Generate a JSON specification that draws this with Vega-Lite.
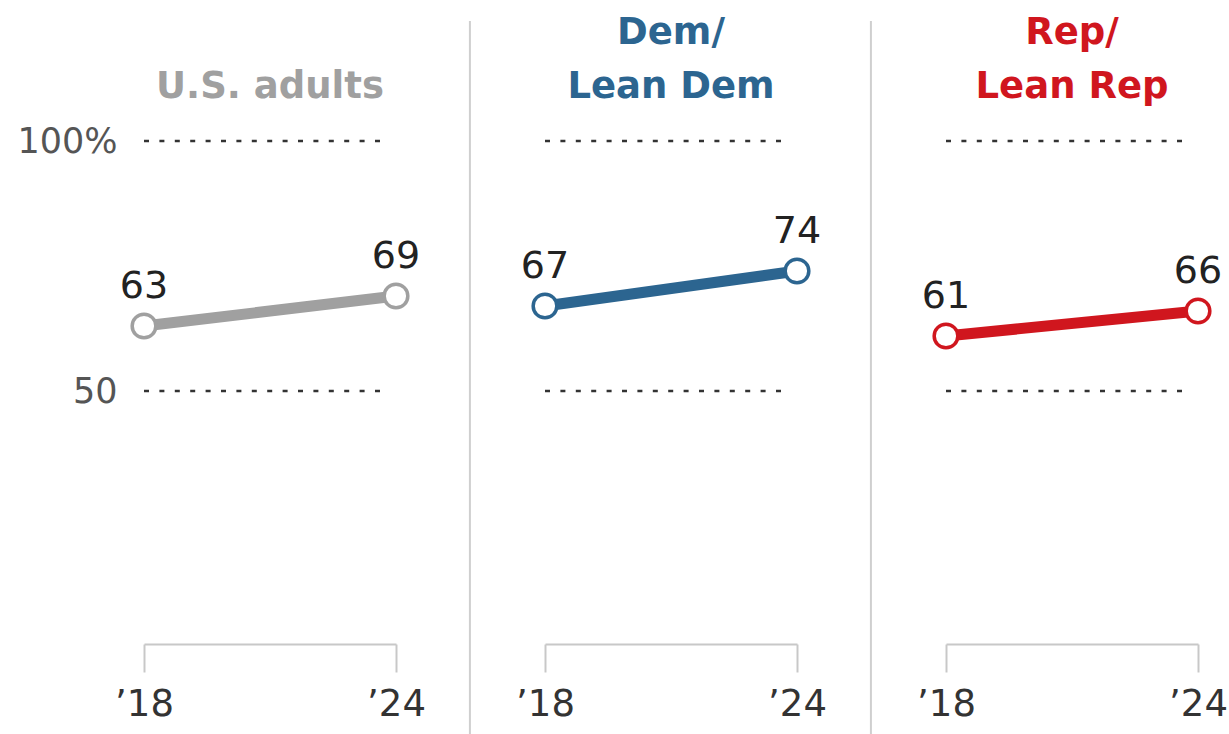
{
  "$schema": "https://vega.github.io/schema/vega-lite/v6.json",
  "padding": {"left": 16, "top": 14, "right": 0, "bottom": 0},
  "background": "white",
  "config": {"view": {"stroke": null}, "font": "DejaVu Sans"},
  "data": {"values": [
    {"group": "U.S. adults", "title": "\nU.S. adults", "year": 2018, "value": 63},
    {"group": "U.S. adults", "title": "\nU.S. adults", "year": 2024, "value": 69},
    {"group": "Dem/Lean Dem", "title": "Dem/\nLean Dem", "year": 2018, "value": 67},
    {"group": "Dem/Lean Dem", "title": "Dem/\nLean Dem", "year": 2024, "value": 74},
    {"group": "Rep/Lean Rep", "title": "Rep/\nLean Rep", "year": 2018, "value": 61},
    {"group": "Rep/Lean Rep", "title": "Rep/\nLean Rep", "year": 2024, "value": 66}
  ]},
  "facet": {"column": {"field": "group", "type": "nominal", "sort": ["U.S. adults", "Dem/Lean Dem", "Rep/Lean Rep"], "header": {"title": null, "labels": false}}},
  "spacing": 149,
  "bounds": "flush",
  "spec": {
    "width": 252,
    "height": 500,
    "encoding": {
      "x": {"field": "year", "type": "quantitative", "scale": {"domain": [2018, 2024], "nice": false, "zero": false},
        "axis": {"values": [2018, 2024], "labelExpr": "'\u2019' + substring(toString(datum.value), 2)", "title": null, "grid": false,
          "domainColor": "#c8c8c8", "domainWidth": 2, "tickColor": "#c8c8c8", "tickWidth": 2, "tickSize": 28, "offset": 3,
          "labelFontSize": 37, "labelFont": "DejaVu Sans", "labelColor": "#333333", "labelPadding": 14, "labelFlush": false}},
      "y": {"field": "value", "type": "quantitative", "scale": {"domain": [0, 100], "nice": false},
        "axis": {"values": [50, 100], "labelExpr": "datum.value == 100 ? '100%' : '50'", "title": null, "domain": false, "ticks": false, "grid": false,
          "labelFontSize": 35, "labelFont": "DejaVu Sans", "labelColor": "#555555", "labelPadding": 27}}
    },
    "layer": [
      {"transform": [{"filter": "datum.year == 2018"}],
       "mark": {"type": "rule", "strokeDash": [5, 10.4], "strokeWidth": 2.5, "color": "#333333"},
       "encoding": {"x": {"datum": 2018, "type": "quantitative", "scale": {"domain": [2018, 2024], "nice": false, "zero": false}},
         "x2": {"datum": 2023.85},
         "y": {"datum": 100, "type": "quantitative", "scale": {"domain": [0, 100], "nice": false}}}},
      {"transform": [{"filter": "datum.year == 2018"}],
       "mark": {"type": "rule", "strokeDash": [5, 10.4], "strokeWidth": 2.5, "color": "#333333"},
       "encoding": {"x": {"datum": 2018, "type": "quantitative", "scale": {"domain": [2018, 2024], "nice": false, "zero": false}},
         "x2": {"datum": 2023.85},
         "y": {"datum": 50, "type": "quantitative", "scale": {"domain": [0, 100], "nice": false}}}},
      {"transform": [{"filter": "datum.year == 2018 && datum.group != 'Rep/Lean Rep'"}],
       "mark": {"type": "rule", "strokeWidth": 2, "color": "#cfcfcf"},
       "encoding": {"x": {"datum": 2025.76, "type": "quantitative", "scale": {"domain": [2018, 2024], "nice": false, "zero": false}},
         "y": {"datum": 124, "type": "quantitative", "scale": {"domain": [0, 100], "nice": false}},
         "y2": {"datum": -18.6}}},
      {"mark": {"type": "line", "strokeWidth": 11},
       "encoding": {"color": {"field": "group", "type": "nominal", "legend": null,
         "scale": {"domain": ["U.S. adults", "Dem/Lean Dem", "Rep/Lean Rep"], "range": ["#a0a0a0", "#2c6590", "#d0161e"]}}}},
      {"mark": {"type": "point", "shape": "circle", "filled": false, "fill": "white", "fillOpacity": 1, "opacity": 1, "size": 560, "strokeWidth": 3.5},
       "encoding": {"color": {"field": "group", "type": "nominal", "legend": null,
         "scale": {"domain": ["U.S. adults", "Dem/Lean Dem", "Rep/Lean Rep"], "range": ["#a0a0a0", "#2c6590", "#d0161e"]}}}},
      {"mark": {"type": "text", "dy": -28, "fontSize": 38, "font": "DejaVu Sans", "color": "#222222", "align": "center", "baseline": "alphabetic"},
       "encoding": {"text": {"field": "value", "type": "quantitative"}}},
      {"transform": [{"filter": "datum.year == 2018"}],
       "mark": {"type": "text", "lineBreak": "\n", "lineHeight": 54, "fontSize": 37, "fontWeight": "bold", "font": "DejaVu Sans", "align": "center", "baseline": "alphabetic"},
       "encoding": {"x": {"datum": 2021, "type": "quantitative", "scale": {"domain": [2018, 2024], "nice": false, "zero": false}},
         "y": {"datum": 119.4, "type": "quantitative", "scale": {"domain": [0, 100], "nice": false}},
         "text": {"field": "title", "type": "nominal"},
         "color": {"field": "group", "type": "nominal", "legend": null,
           "scale": {"domain": ["U.S. adults", "Dem/Lean Dem", "Rep/Lean Rep"], "range": ["#a0a0a0", "#2c6590", "#d0161e"]}}}}
    ]
  }
}
